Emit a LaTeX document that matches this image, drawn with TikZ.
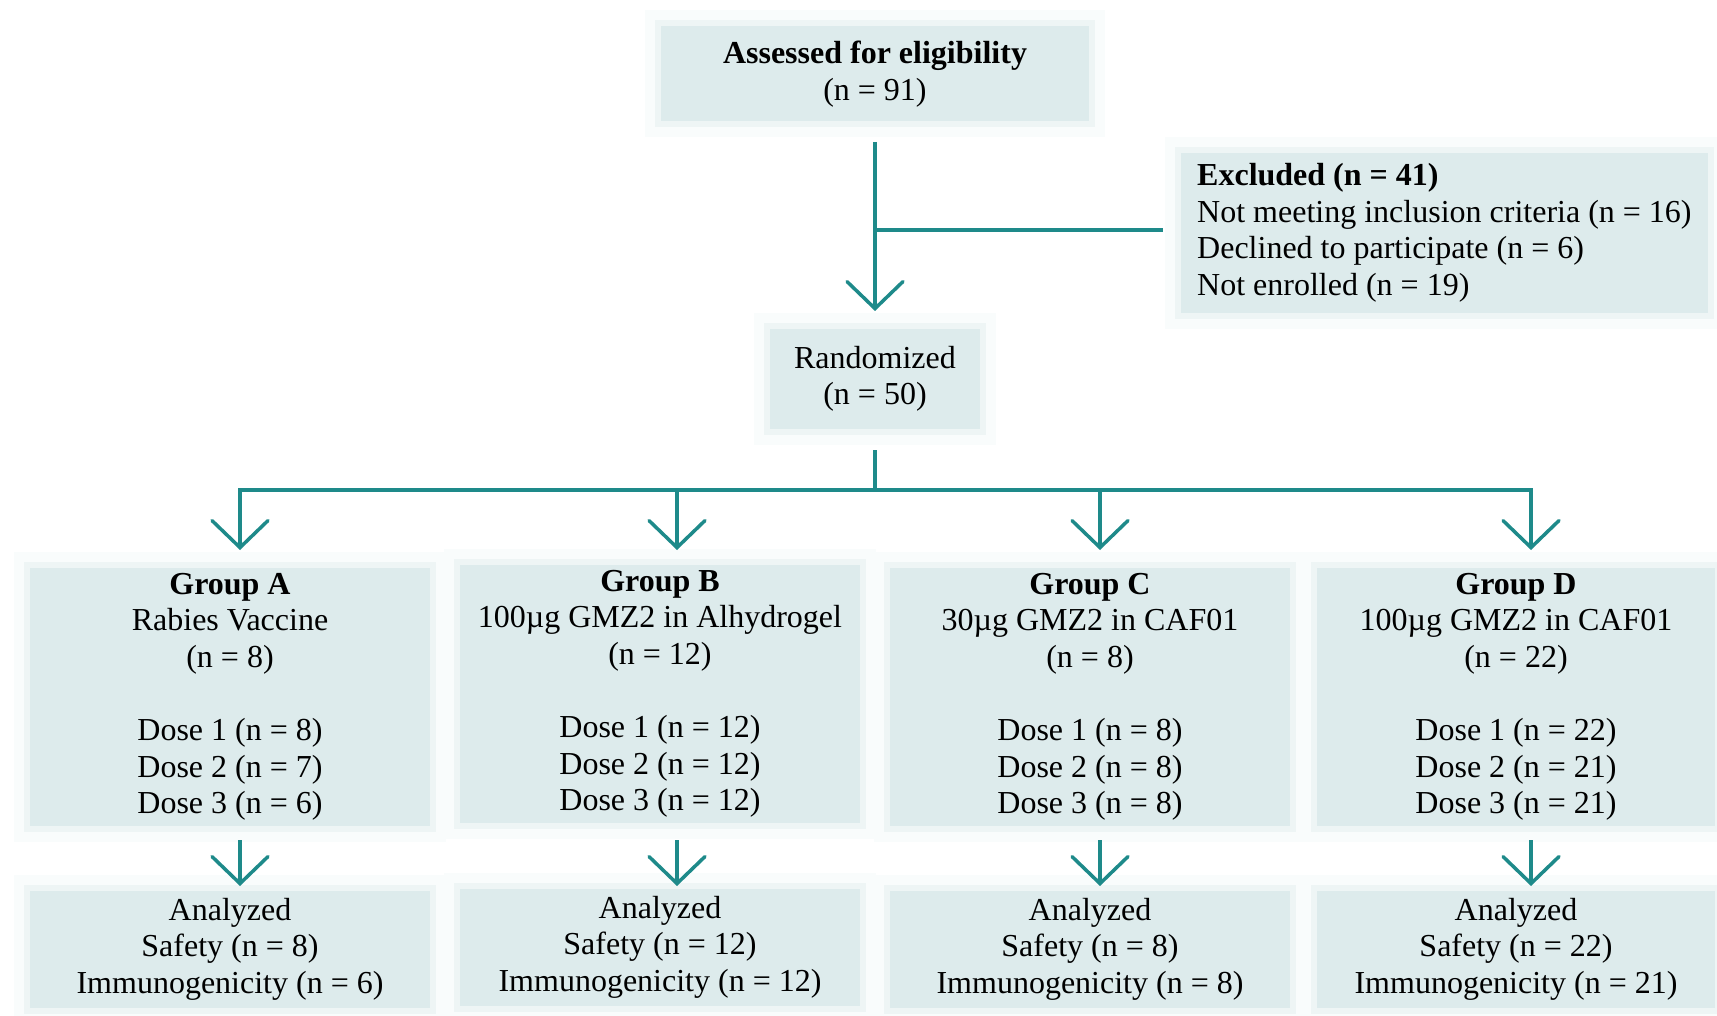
\documentclass[tikz,border=0pt]{standalone}
\usepackage{fontspec}
\setmainfont{Liberation Serif}
\usetikzlibrary{arrows.meta,calc}
\definecolor{tealline}{RGB}{30,138,138}
\definecolor{boxfill}{RGB}{221,235,236}
\definecolor{haloA}{RGB}{249,252,252}
\definecolor{haloB}{RGB}{238,245,245}
\begin{document}
\begin{tikzpicture}[x=1pt,y=-1pt,
  softbox/.style={rectangle, fill=boxfill, inner sep=0pt, align=center,
    font=\fontsize{32}{36.6}\selectfont,
    preaction={draw=haloA,line width=32pt},
    preaction={draw=haloB,line width=12pt}},
  conn/.style={draw=tealline,line width=3.5pt,line cap=rect},
  arr/.style={draw=tealline,line width=3.5pt,-{Straight Barb[length=27pt,width=56pt,line cap=round]}}]
\useasboundingbox[fill=white] (0,0) rectangle (1717,1016);

% boxes
\node[softbox, minimum width=428pt, minimum height=95pt] (assess) at (875,74)
  {\textbf{Assessed for eligibility}\\(n = 91)};
\node[softbox, anchor=west, align=left, inner xsep=16pt, minimum height=160pt] (excl) at (1181,233)
  {\textbf{Excluded (n = 41)}\\Not meeting inclusion criteria (n = 16)\\Declined to participate (n = 6)\\Not enrolled (n = 19)};
\node[softbox, minimum width=210pt, minimum height=100pt] (rand) at (875,379)
  {Randomized\\(n = 50)};

\node[softbox, minimum width=400pt, minimum height=258pt] (gA) at (230,697)
  {\textbf{Group A}\\Rabies Vaccine\\(n = 8)\\[36.6pt]Dose 1 (n = 8)\\Dose 2 (n = 7)\\Dose 3 (n = 6)};
\node[softbox, minimum width=400pt, minimum height=258pt] (gB) at (660,694)
  {\textbf{Group B}\\100µg GMZ2 in Alhydrogel\\(n = 12)\\[36.6pt]Dose 1 (n = 12)\\Dose 2 (n = 12)\\Dose 3 (n = 12)};
\node[softbox, minimum width=400pt, minimum height=258pt] (gC) at (1090,697)
  {\textbf{Group C}\\30µg GMZ2 in CAF01\\(n = 8)\\[36.6pt]Dose 1 (n = 8)\\Dose 2 (n = 8)\\Dose 3 (n = 8)};
\node[softbox, minimum width=398pt, minimum height=258pt] (gD) at (1516,697)
  {\textbf{Group D}\\100µg GMZ2 in CAF01\\(n = 22)\\[36.6pt]Dose 1 (n = 22)\\Dose 2 (n = 21)\\Dose 3 (n = 21)};

\node[softbox, minimum width=400pt, minimum height=117pt] (aA) at (230,949)
  {Analyzed\\Safety (n = 8)\\Immunogenicity (n = 6)};
\node[softbox, minimum width=400pt, minimum height=117pt] (aB) at (660,947)
  {Analyzed\\Safety (n = 12)\\Immunogenicity (n = 12)};
\node[softbox, minimum width=400pt, minimum height=117pt] (aC) at (1090,949)
  {Analyzed\\Safety (n = 8)\\Immunogenicity (n = 8)};
\node[softbox, minimum width=398pt, minimum height=117pt] (aD) at (1516,949)
  {Analyzed\\Safety (n = 22)\\Immunogenicity (n = 21)};

% connectors
\coordinate (ej) at (875,230);
\coordinate (split) at (875,490);
\coordinate (bA) at (240,490);
\coordinate (bB) at (677,490);
\coordinate (bC) at (1100,490);
\coordinate (bD) at (1531,490);

\draw[arr] (875,142) -- (875,311);
\draw[conn] (ej) -- ([xshift=-20pt]excl.west |- ej);
\draw[conn] (875,452) -- (split);
\draw[conn] (bA) -- (bD);
\foreach \g in {A,B,C,D}{
  \draw[arr] (b\g) -- ($(b\g)+(0,60)$);
  \draw[arr] ($(b\g)+(0,350)$) -- ($(b\g)+(0,396)$);
}
\end{tikzpicture}
\end{document}
